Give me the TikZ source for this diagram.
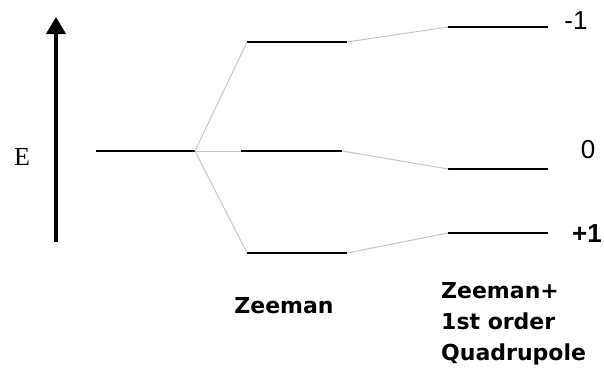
\documentclass[tikz,border=0pt]{standalone}
\usepackage{fontspec}
\setmainfont{Liberation Serif}
\newfontfamily\lsans{Liberation Sans}
\newfontfamily\dvbold{DejaVu Sans}
\usetikzlibrary{arrows.meta}
\begin{document}
\begin{tikzpicture}[x=1pt,y=-1pt,
  level/.style={line width=2.8pt,black},
  link/.style={line width=1pt,gray!45},
  lbl/.style={inner sep=0pt,font=\lsans\fontsize{26}{30}\selectfont},
  captext/.style={inner sep=0pt,font=\dvbold\bfseries\fontsize{22}{31}\selectfont}]
\useasboundingbox (0,0) rectangle (604,381);
% energy arrow
\coordinate (ab) at (56,242);
\coordinate (at) at (56,17);
\draw[line width=4.5pt,-{Triangle[length=17pt,width=19pt]}] (ab) -- (at);
\node[inner sep=0pt,font=\fontsize{26}{30}\selectfont] (E) at (22,157) {E};
% levels
\coordinate (g0l) at (96,151); \coordinate (g0r) at (195,151);
\coordinate (ztl) at (247,42); \coordinate (ztr) at (347,42);
\coordinate (zml) at (241,151); \coordinate (zmr) at (342,151);
\coordinate (zbl) at (247,253); \coordinate (zbr) at (347,253);
\coordinate (qtl) at (448,27); \coordinate (qtr) at (548,27);
\coordinate (qml) at (448,169); \coordinate (qmr) at (548,169);
\coordinate (qbl) at (448,233); \coordinate (qbr) at (548,233);
\foreach \a/\b in {g0l/g0r,ztl/ztr,zml/zmr,zbl/zbr,qtl/qtr,qml/qmr,qbl/qbr}
  \draw[level] (\a) -- (\b);
% connectors
\draw[link] (g0r) -- (ztl);
\draw[link] (g0r) -- (zml);
\draw[link] (g0r) -- (zbl);
\draw[link] (ztr) -- (qtl);
\draw[link] (zmr) -- (qml);
\draw[link] (zbr) -- (qbl);
% labels
\node[lbl] (m1) at (576,21) {-1};
\node[lbl] (z0) at (588,150) {0};
\node[lbl,font=\lsans\bfseries\fontsize{26}{30}\selectfont] (p1) at (587,234) {+1};
\node[captext,anchor=base] (zee) at (284,313) {Zeeman};
\node[captext,anchor=north west,align=left] (zq) at (441,282) {Zeeman+\\1st order\\Quadrupole};
\end{tikzpicture}
\end{document}
